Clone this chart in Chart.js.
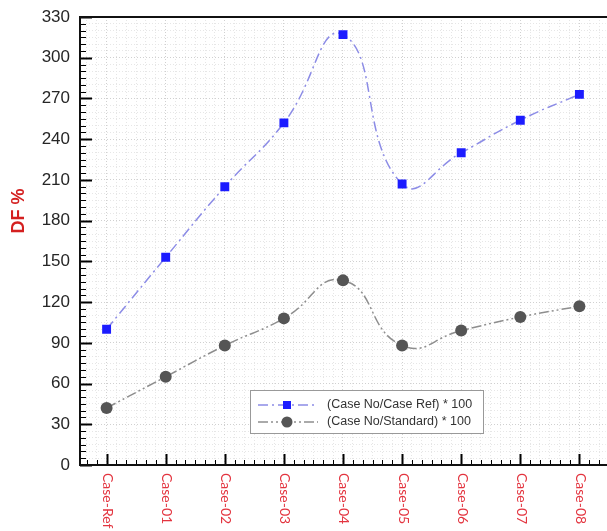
<!DOCTYPE html>
<html>
<head>
<meta charset="utf-8">
<script src="https://cdn.jsdelivr.net/npm/chart.js@4/dist/chart.umd.min.js"></script>
<style>
  html, body { margin: 0; padding: 0; background: #fff; overflow: hidden; width: 607px; height: 531px; }
  #wrap { position: relative; width: 612px; height: 531px; }
</style>
</head>
<body>
<div id="wrap"><canvas id="c"></canvas></div>
<script>
// ---- data ----
const categories = ["Case-Ref", "Case-01", "Case-02", "Case-03", "Case-04", "Case-05", "Case-06", "Case-07", "Case-08"];
const ratioToRef = [100, 153, 205, 252, 317, 207, 230, 254, 273];
const ratioToStandard = [42, 65, 88, 108, 136, 88, 99, 109, 117];
const yTickLabels = [0, 30, 60, 90, 120, 150, 180, 210, 240, 270, 300, 330];
const seriesLabels = ["(Case No/Case Ref) * 100", "(Case No/Standard) * 100"];
const yTitle = "DF %";

const toPoints = arr => arr.map((v, i) => ({ x: i, y: v }));

const decorPlugin = {
  id: 'decor',
  afterDraw(chart) {
    const { ctx, chartArea: a, scales: { x, y } } = chart;
    ctx.save();
    ctx.strokeStyle = '#000';
    // y ticks (inside)
    y.ticks.forEach(t => {
      const py = Math.round(y.getPixelForValue(t.value)) + 0.5;
      const major = yTickLabels.includes(t.value);
      ctx.lineWidth = major ? 2 : 1;
      ctx.beginPath();
      ctx.moveTo(a.left, py);
      ctx.lineTo(a.left + (major ? 12 : 6), py);
      ctx.stroke();
    });
    // x ticks (inside)
    x.ticks.forEach(t => {
      const px = Math.round(x.getPixelForValue(t.value)) + 0.5;
      const major = Math.abs(t.value - Math.round(t.value)) < 1e-6;
      ctx.lineWidth = major ? 2 : 1;
      ctx.beginPath();
      ctx.moveTo(px, a.bottom);
      ctx.lineTo(px, a.bottom - (major ? 11 : 5));
      ctx.stroke();
    });
    // frame
    ctx.lineWidth = 2;
    ctx.strokeStyle = '#111';
    ctx.strokeRect(a.left, a.top, a.right - a.left + 6, a.bottom - a.top);

    // x labels rotated clockwise
    ctx.fillStyle = '#e3343f';
    ctx.font = '14px Lato';
    ctx.textAlign = 'left';
    ctx.textBaseline = 'middle';
    categories.forEach((c, i) => {
      const px = x.getPixelForValue(i);
      ctx.save();
      ctx.translate(px + 1, a.bottom + 8);
      ctx.rotate(Math.PI / 2);
      ctx.fillText(c, 0, 0);
      ctx.restore();
    });

    // y title
    ctx.save();
    ctx.fillStyle = '#d42020';
    ctx.font = 'bold 18px "Liberation Sans"';
    ctx.textAlign = 'center';
    ctx.textBaseline = 'middle';
    ctx.translate(19, 211);
    ctx.rotate(-Math.PI / 2);
    ctx.fillText(yTitle, 0, 0);
    ctx.restore();

    // legend box
    const lx = 250, ly = 390, lw = 233, lh = 43;
    ctx.fillStyle = '#fff';
    ctx.fillRect(lx, ly, lw, lh);
    ctx.lineWidth = 1;
    ctx.strokeStyle = '#999';
    ctx.strokeRect(lx + 0.5, ly + 0.5, lw, lh);
    chart.data.datasets.forEach((ds, i) => {
      const ry = ly + 15 + i * 17;
      ctx.save();
      ctx.strokeStyle = ds.borderColor;
      ctx.lineWidth = 1.3;
      ctx.setLineDash(ds.borderDash);
      ctx.beginPath();
      ctx.moveTo(lx + 8, ry);
      ctx.lineTo(lx + 68, ry);
      ctx.stroke();
      ctx.restore();
      ctx.fillStyle = ds.pointBackgroundColor;
      if (ds.pointStyle === 'rect') {
        ctx.fillRect(lx + 33, ry - 4, 8, 8);
      } else {
        ctx.beginPath();
        ctx.arc(lx + 37, ry, 5.5, 0, Math.PI * 2);
        ctx.fill();
      }
      ctx.fillStyle = '#333';
      ctx.font = '12.5px "Liberation Sans"';
      ctx.textAlign = 'left';
      ctx.textBaseline = 'middle';
      ctx.fillText(ds.label, lx + 77, ry);
    });
    ctx.restore();
  }
};

new Chart(document.getElementById('c'), {
  type: 'line',
  data: {
    datasets: [
      {
        label: seriesLabels[0],
        data: toPoints(ratioToRef),
        borderColor: '#8c8ce6',
        borderWidth: 1.5,
        borderDash: [10, 4, 2, 4],
        pointStyle: 'rect',
        pointRadius: 6.3,
        pointBackgroundColor: '#1c1cff',
        pointBorderColor: '#1c1cff',
        pointBorderWidth: 0,
        tension: 0.5
      },
      {
        label: seriesLabels[1],
        data: toPoints(ratioToStandard),
        borderColor: '#8e8e8e',
        borderWidth: 1.5,
        borderDash: [10, 3, 2, 3, 2, 3],
        pointStyle: 'circle',
        pointRadius: 6,
        pointBackgroundColor: '#555',
        pointBorderColor: '#555',
        pointBorderWidth: 0,
        tension: 0.5
      }
    ]
  },
  options: {
    responsive: true,
    maintainAspectRatio: false,
    animation: false,
    layout: { padding: { top: 17, left: 0, right: 0, bottom: 0 } },
    plugins: { legend: { display: false }, tooltip: { enabled: false } },
    scales: {
      x: {
        type: 'linear',
        min: -0.45,
        max: 8.445,
        afterBuildTicks(scale) {
          const t = [];
          for (let k = -2; k <= 50; k++) t.push({ value: k / 6 });
          scale.ticks = t;
        },
        afterFit(scale) { scale.height = 66; },
        ticks: { display: false },
        grid: {
          drawTicks: false,
          color: ctx => (Math.abs(ctx.tick.value - Math.round(ctx.tick.value)) < 1e-6 ? '#d0d0d0' : '#e6e6e6'),
          lineWidth: 1
        },
        border: { display: false, dash: [1, 2] }
      },
      y: {
        min: 0,
        max: 330,
        afterFit(scale) { scale.width = 80; },
        ticks: {
          stepSize: 5,
          autoSkip: false,
          padding: 10,
          color: '#262626',
          font: { family: '"Liberation Sans"', size: 17, lineHeight: 0.8 },
          callback: v => (yTickLabels.includes(v) ? String(v) : '')
        },
        grid: {
          drawTicks: false,
          color: ctx => (yTickLabels.includes(ctx.tick.value) ? '#d0d0d0' : '#e6e6e6'),
          lineWidth: 1
        },
        border: { display: false, dash: [1, 2] }
      }
    }
  },
  plugins: [decorPlugin]
});
</script>
</body>
</html>
